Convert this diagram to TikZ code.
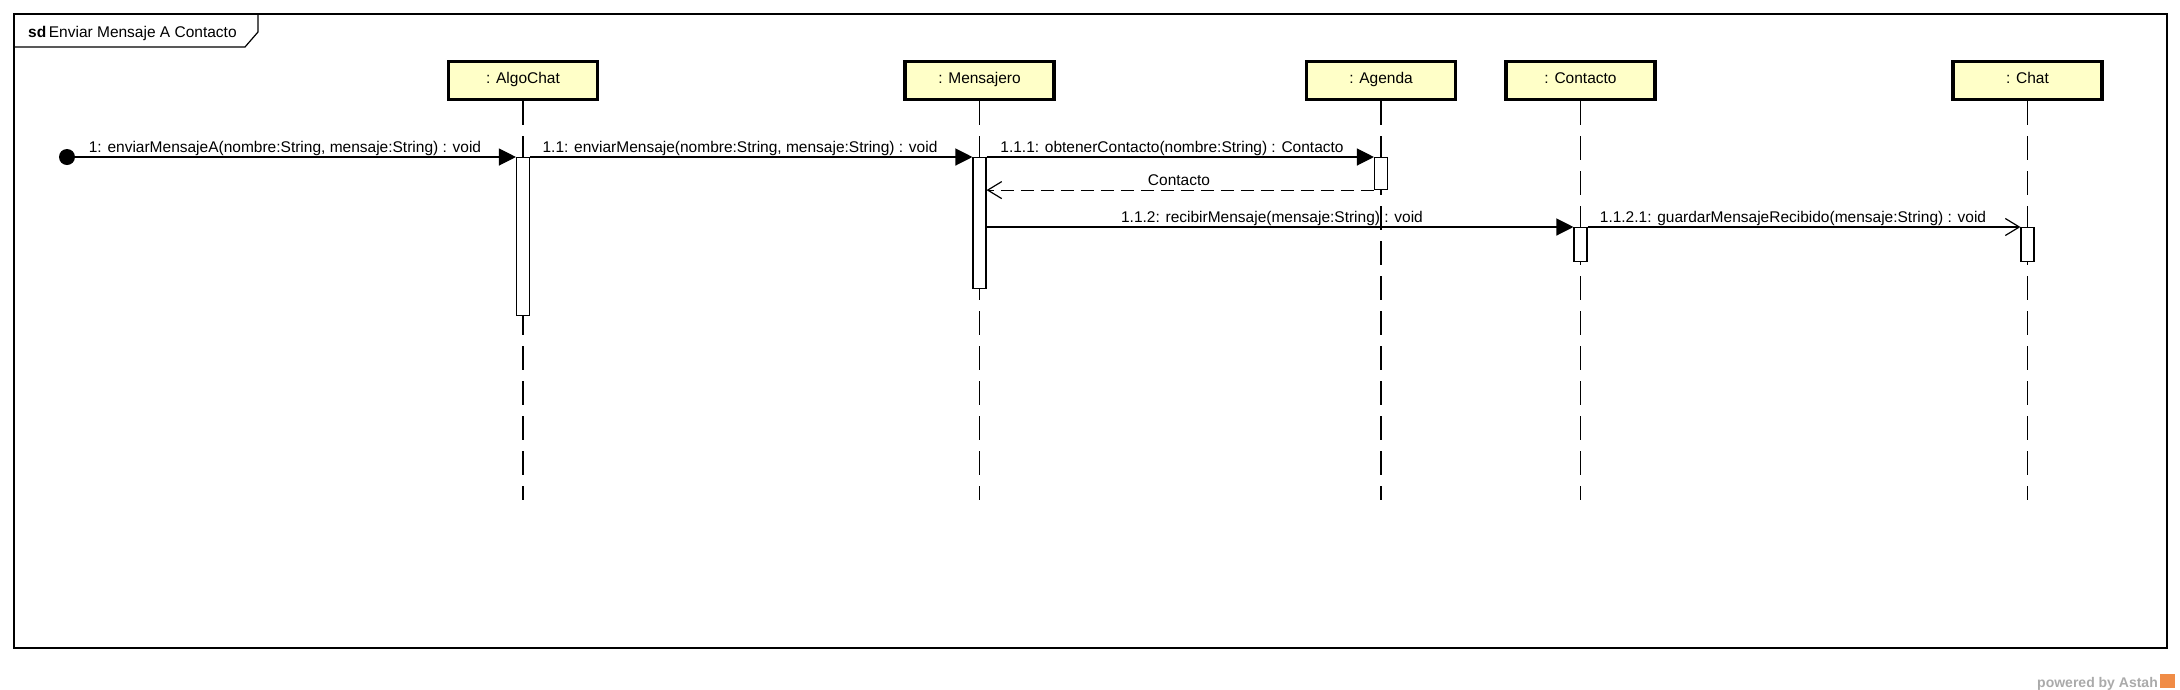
\documentclass[tikz,border=0pt]{standalone}
\usepackage{fontspec}
\setmainfont{Liberation Sans}
\usetikzlibrary{arrows.meta}
\definecolor{hdrfill}{RGB}{255,255,200}
\definecolor{astahgray}{RGB}{170,170,170}
\definecolor{astahorange}{RGB}{240,140,70}
\tikzset{
  lbl/.style={font=\fontsize{15.5}{18}\selectfont, inner sep=0pt, anchor=base},
  hdr/.style={draw=black, line width=3.5pt, fill=hdrfill, minimum width=149pt, minimum height=38pt, inner sep=0pt, text height=11.5pt, text depth=6.5pt, font=\fontsize{15.5}{18}\selectfont},
  lifeline/.style={line width=1.1pt, dash pattern=on 24pt off 11pt},
  actbox/.style={draw=black, line width=1.1pt, fill=white, minimum width=13pt, inner sep=0pt},
  msg/.style={line width=1.2pt, -{Triangle[length=17pt,width=17pt]}},
  asyncmsg/.style={line width=1.2pt, -{Straight Barb[length=14pt,width=17pt,line width=1.2pt]}},
  retmsg/.style={line width=1.2pt, dash pattern=on 13pt off 7pt, -{Straight Barb[length=14pt,width=17pt,line width=1.2pt]}},
  framebox/.style={draw=black, line width=1.2pt}
}
\begin{document}
\begin{tikzpicture}[x=1pt,y=-1pt]
\useasboundingbox (0,0) rectangle (2180,689);
% frame
\draw[framebox] (14,14) rectangle (2167,648);
\draw[framebox] (14,47) -- (245,47) -- (258,32) -- (258,14);
\node[font=\fontsize{15.5}{18}\selectfont, anchor=base west, inner sep=0pt] (title) at (28,37) {\textbf{sd}\,Enviar Mensaje A Contacto};

% headers
\node[hdr] (hA) at (523,80.5) {: AlgoChat};
\node[hdr] (hM) at (979.5,80.5) {: Mensajero};
\node[hdr] (hG) at (1381,80.5) {: Agenda};
\node[hdr] (hC) at (1580.5,80.5) {: Contacto};
\node[hdr] (hH) at (2027.5,80.5) {: Chat};

% lifeline ends
\coordinate (eA) at (523,500);
\coordinate (eM) at (979.5,500);
\coordinate (eG) at (1381,500);
\coordinate (eC) at (1580.5,500);
\coordinate (eH) at (2027.5,500);

\draw[lifeline] (hA.south) -- (eA);
\draw[lifeline] (hM.south) -- (eM);
\draw[lifeline] (hG.south) -- (eG);
\draw[lifeline] (hC.south) -- (eC);
\draw[lifeline] (hH.south) -- (eH);

% activations
\node[actbox, minimum height=158pt, anchor=north] (aA) at (523,157) {};
\node[actbox, minimum height=131pt, anchor=north] (aM) at (979.5,157) {};
\node[actbox, minimum height=32pt, anchor=north] (aG) at (1381,157) {};
\node[actbox, minimum height=34pt, anchor=north] (aC) at (1580.5,227) {};
\node[actbox, minimum height=34pt, anchor=north] (aH) at (2027.5,227) {};

% start point
\node[circle, fill=black, minimum size=16pt, inner sep=0pt] (start) at (67,157) {};

% messages
\draw[msg] (start.center) -- (aA.north west);
\node[lbl] (l1) at (285,152) {1: enviarMensajeA(nombre:String, mensaje:String) : void};

\draw[msg] (aA.north east) -- (aM.north west);
\node[lbl] (l2) at (740,152) {1.1: enviarMensaje(nombre:String, mensaje:String) : void};

\draw[msg] (aM.north east) -- (aG.north west);
\node[lbl] (l3) at (1172,152) {1.1.1: obtenerContacto(nombre:String) : Contacto};

\draw[retmsg] (aG.south west) -- (aM.east |- aG.south);
\node[lbl] (l4) at (1179,185) {Contacto};

\draw[msg] (aM.east |- aC.north) -- (aC.north west);
\node[lbl] (l5) at (1272,222) {1.1.2: recibirMensaje(mensaje:String) : void};

\draw[asyncmsg] (aC.north east) -- (aH.north west);
\node[lbl] (l6) at (1793,222) {1.1.2.1: guardarMensajeRecibido(mensaje:String) : void};

% watermark
\node[font=\fontsize{14}{16}\selectfont\bfseries, text=astahgray, anchor=base east, inner sep=0pt] (pw) at (2158,687) {powered by Astah};
\node[fill=astahorange, minimum width=15pt, minimum height=14pt, inner sep=0pt, anchor=north west] (logo) at (2160,674) {};
\end{tikzpicture}
\end{document}
